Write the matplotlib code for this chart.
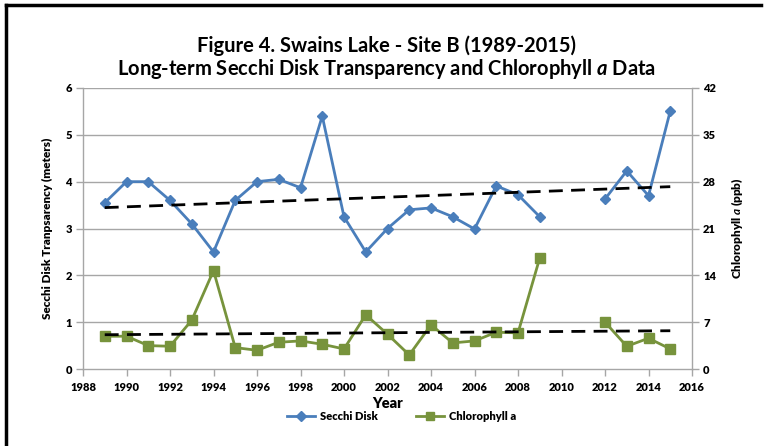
import matplotlib
matplotlib.use('Agg')
import matplotlib.pyplot as plt
import numpy as np
from matplotlib.lines import Line2D

fnt = 'Lato'
plt.rcParams['font.family'] = [fnt, 'DejaVu Sans']
plt.rcParams['font.weight'] = 'bold'
plt.rcParams['axes.labelweight'] = 'heavy'
plt.rcParams['mathtext.fontset'] = 'custom'
plt.rcParams['mathtext.it'] = fnt + ':italic:bold'
plt.rcParams['mathtext.rm'] = fnt + ':bold'

# data (nan = no sample)
years = [1989, 1990, 1991, 1992, 1993, 1994, 1995, 1996, 1997, 1998, 1999,
         2000, 2001, 2002, 2003, 2004, 2005, 2006, 2007, 2008, 2009,
         2010, 2011, 2012, 2013, 2014, 2015]
secchi = [3.55, 4.0, 4.0, 3.6, 3.1, 2.5, 3.6, 4.0, 4.05, 3.87, 5.4,
          3.25, 2.5, 3.0, 3.4, 3.44, 3.25, 2.99, 3.91, 3.72, 3.25,
          np.nan, np.nan, 3.63, 4.23, 3.7, 5.51]
chla = [4.9, 4.9, 3.5, 3.4, 7.3, 14.7, 3.2, 2.8, 4.0, 4.2, 3.7,
        3.0, 8.1, 5.2, 2.1, 6.6, 3.9, 4.2, 5.5, 5.4, 16.6,
        np.nan, np.nan, 7.0, 3.4, 4.6, 3.0]
xticks = list(range(1988, 2017, 2))
left_ticks = [0, 1, 2, 3, 4, 5, 6]
right_ticks = [0, 7, 14, 21, 28, 35, 42]

blue = '#4a7ebb'
green = '#77933c'
gridc = '#a6a6a6'

fig = plt.figure(figsize=(7.65, 4.46), dpi=100)
ax = fig.add_axes([0.1085, 0.1726, 0.7961, 0.6301])
ax2 = ax.twinx()

x = np.array(years, dtype=float)
s = np.array(secchi)
c = np.array(chla)

for y in left_ticks[1:]:
    ax.axhline(y, color=gridc, lw=1, zorder=0)

ax.plot(x, s, color=blue, lw=2, marker='D', ms=5.5, mfc=blue, mec=blue, zorder=3)
ax2.plot(x, c, color=green, lw=2, marker='s', ms=7, mfc=green, mec=green, zorder=3)

# linear trendlines
m = ~np.isnan(s)
p = np.polyfit(x[m], s[m], 1)
ax.plot([1989, 2015], np.polyval(p, [1989, 2015]), color='black', lw=2, ls=(0, (5, 3)), zorder=4)
m = ~np.isnan(c)
p = np.polyfit(x[m], c[m], 1)
ax2.plot([1989, 2015], np.polyval(p, [1989, 2015]), color='black', lw=2, ls=(0, (5, 3)), zorder=4)

ax.set_xlim(1988, 2016)
ax.set_ylim(0, 6)
ax2.set_ylim(0, 42)
ax.set_xticks(xticks, [str(v) for v in xticks], fontweight='heavy', fontsize=8)
ax.set_yticks(left_ticks, [str(v) for v in left_ticks], fontweight='heavy', fontsize=8)
ax2.set_yticks(right_ticks, [str(v) for v in right_ticks], fontweight='heavy', fontsize=8)

for a in (ax, ax2):
    for sp in a.spines.values():
        sp.set_visible(False)
ax.spines['left'].set_visible(True)
ax.spines['bottom'].set_visible(True)
ax2.spines['right'].set_visible(True)
for sp in (ax.spines['left'], ax.spines['bottom'], ax2.spines['right']):
    sp.set_color(gridc)
    sp.set_linewidth(1)

ax.tick_params(axis='both', colors='black', length=5, width=1, color=gridc, pad=3)
ax2.tick_params(axis='y', length=5, width=1, color=gridc, pad=3)
ax.tick_params(axis='x', pad=4)

ax.set_xlabel('Year', fontsize=10.5, labelpad=3)
ax.set_ylabel('Secchi Disk Tranpsarency (meters)', fontsize=8.5, labelpad=9)
ax2.set_ylabel('Chlorophyll $\\mathit{a}$ (ppb)', fontsize=8.5, labelpad=9)

fig.text(0.505, 0.898, 'Figure 4. Swains Lake - Site B (1989-2015)',
         ha='center', va='center', fontsize=14.5, fontweight='bold')
fig.text(0.505, 0.845, 'Long-term Secchi Disk Transparency and Chlorophyll $\\mathit{a}$ Data',
         ha='center', va='center', fontsize=14.5, fontweight='bold')

handles = [Line2D([], [], color=blue, lw=2, marker='D', ms=5, mfc=blue, mec=blue),
           Line2D([], [], color=green, lw=2, marker='s', ms=6, mfc=green, mec=green)]
leg = fig.legend(handles, ['Secchi Disk', 'Chlorophyll a'], loc='center', bbox_to_anchor=(0.525, 0.066),
                 ncol=2, frameon=False, fontsize=8, handlelength=2.5, columnspacing=3.5, handletextpad=0.4)
for t in leg.get_texts():
    t.set_fontweight('heavy')

# frame lines on left and top
fig.add_artist(Line2D([0.008, 0.008], [0, 0.989], color='black', lw=2.5, transform=fig.transFigure))
fig.add_artist(Line2D([0.008, 0.995], [0.989, 0.989], color='black', lw=2.5, transform=fig.transFigure))

fig.savefig('out.png', dpi=100)
